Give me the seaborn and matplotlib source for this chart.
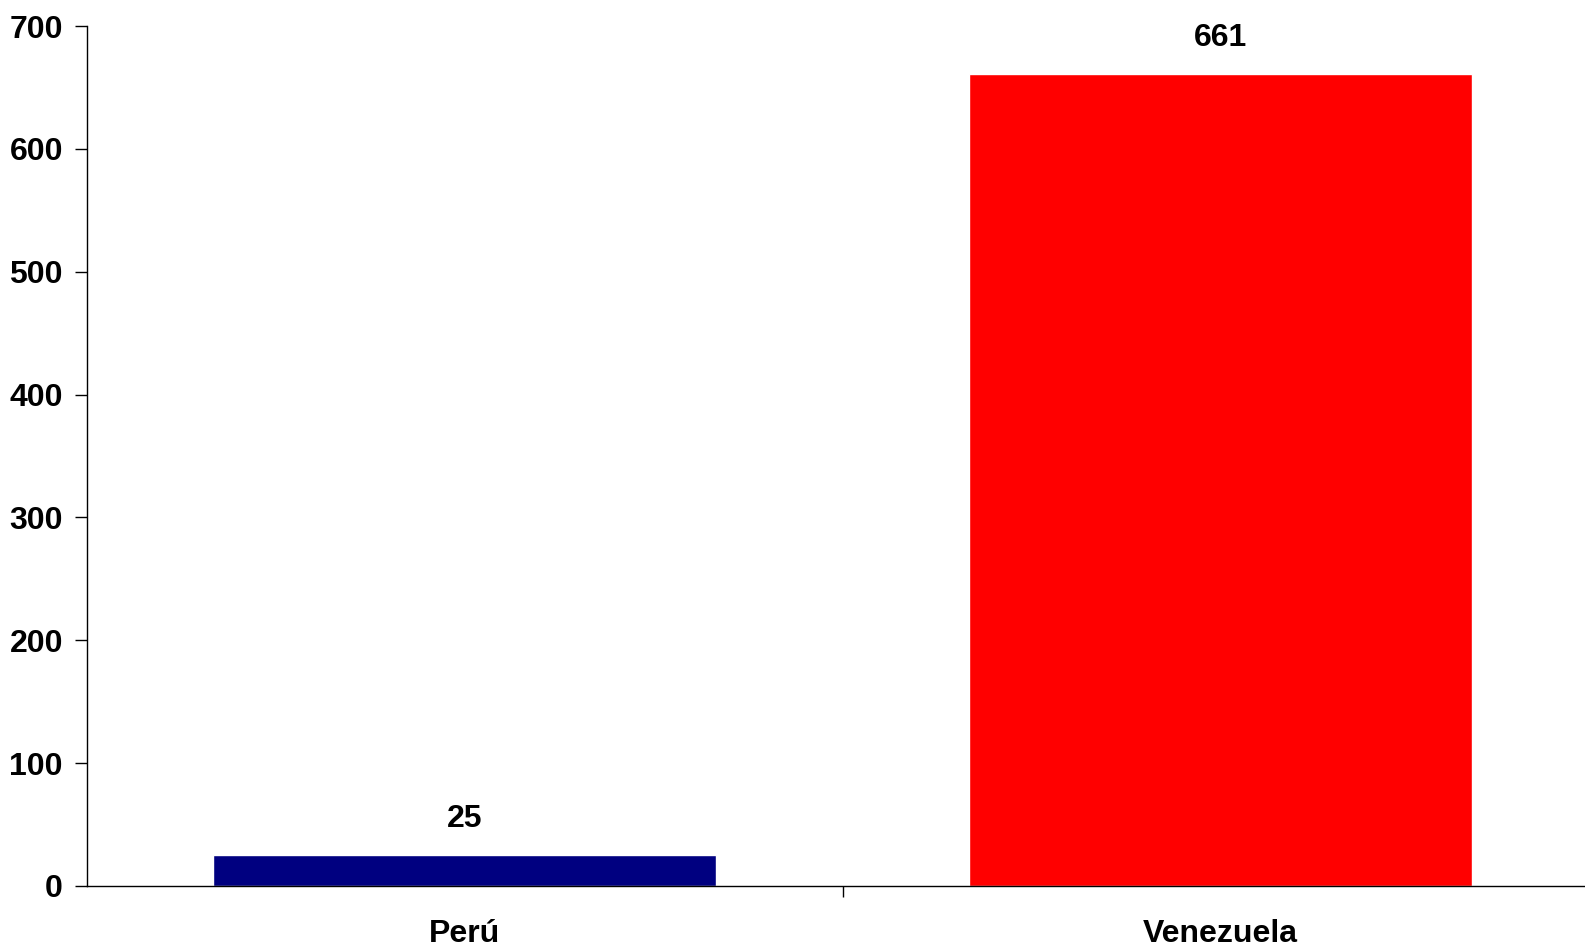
import matplotlib
matplotlib.use("Agg")
import matplotlib.pyplot as plt
import seaborn as sns
import pandas as pd

# Chart data
countries = ["Perú", "Venezuela"]
values = [25, 661]
bar_colors = ["#000080", "#FF0000"]
y_ticks = [0, 100, 200, 300, 400, 500, 600, 700]

sns.set_style("white")
plt.rcParams["font.family"] = ["Liberation Sans", "DejaVu Sans"]
plt.rcParams["font.weight"] = "bold"
plt.rcParams["text.color"] = "black"
plt.rcParams["xtick.color"] = "black"
plt.rcParams["ytick.color"] = "black"

df = pd.DataFrame({"country": countries, "value": values})

fig = plt.figure(figsize=(15.85, 9.49), dpi=100)
ax = fig.add_axes([0.0546, 0.0664, 0.954, 0.9062])

sns.barplot(data=df, x="country", y="value", hue="country",
            palette=bar_colors, width=0.666, legend=False,
            saturation=1, ax=ax)

for cont in ax.containers:
    ax.bar_label(cont, padding=15, fontsize=23, fontweight="bold", color="black")

ax.set_xlim(-0.5, 1.5)
ax.set_ylim(0, 700)
ax.set_yticks(y_ticks)
ax.set_xlabel("")
ax.set_ylabel("")

ax.tick_params(axis="y", direction="out", length=9, width=1,
               labelsize=23, left=True, pad=8, color="black", labelcolor="black")
ax.tick_params(axis="x", which="major", length=0, labelsize=23, pad=24,
               labelcolor="black")
ax.set_xticks([0.5], minor=True)
ax.tick_params(axis="x", which="minor", length=8, width=1, color="black",
               bottom=True, direction="out")
for lbl in ax.get_xticklabels() + ax.get_yticklabels():
    lbl.set_fontweight("bold")

sns.despine(ax=ax, top=True, right=True)
for side in ["left", "bottom"]:
    ax.spines[side].set_color("black")
    ax.spines[side].set_linewidth(1)

fig.savefig("out.png", dpi=100)
